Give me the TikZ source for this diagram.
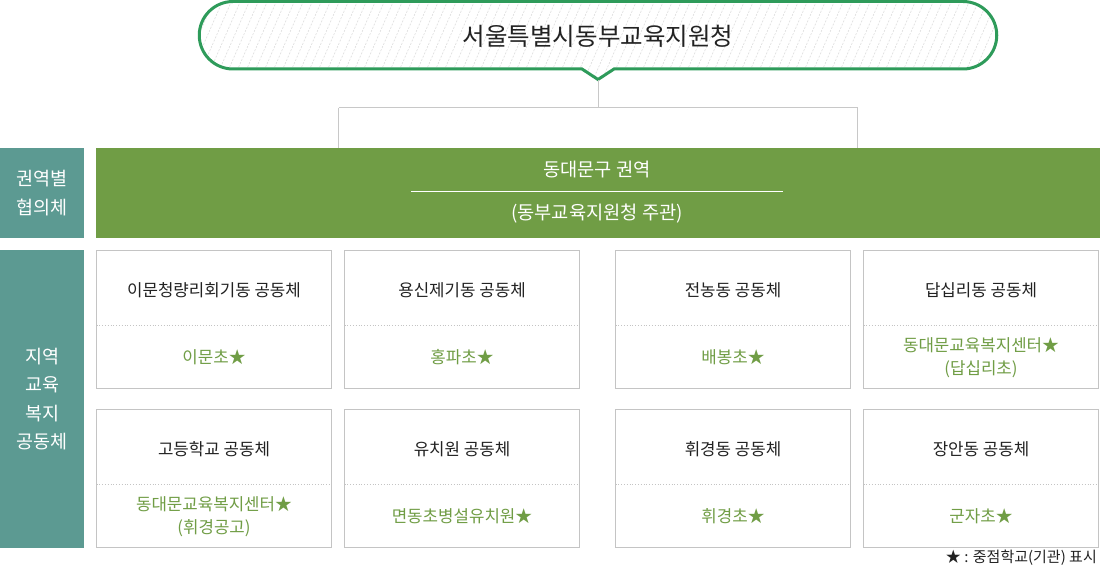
\documentclass[tikz,border=0pt]{standalone}
\usepackage{fontspec}
\setmainfont{Noto Sans CJK KR}
\definecolor{titlegreen}{HTML}{2E9B5A}
\definecolor{bargreen}{HTML}{709D45}
\definecolor{teal}{HTML}{5C9A92}
\definecolor{cardline}{HTML}{C4C4C4}
\definecolor{connline}{HTML}{C8C8C8}
\definecolor{txt}{HTML}{222222}
\definecolor{hatch}{HTML}{DDDDDD}
\tikzset{
  conn/.style={draw=connline, line width=1pt},
  cardbox/.style={draw=cardline, line width=1pt, fill=white, anchor=north west, minimum width=235pt, minimum height=138pt, inner sep=0pt, outer sep=0pt},
  cardtitle/.style={font=\fontsize{16.8}{20}\selectfont, text=txt, inner sep=0pt},
  cardsub/.style={font=\fontsize{16.8}{23}\selectfont, text=bargreen, align=center, inner sep=0pt},
  sepline/.style={draw=cardline, line width=0.8pt, dotted},
  sidebox/.style={fill=teal, anchor=north west, minimum width=84pt, inner sep=0pt, text=white, align=center, font=\fontsize{18.5}{28.5}\selectfont},
}
\newcommand\mkcard[5]{%
  \node[cardbox] (#1) at (#2,#3) {};
  \draw[sepline] ([yshift=-74.5pt]#1.north west) -- ([yshift=-74.5pt]#1.north east);
  \node[cardtitle] (#1t) at ([yshift=-39.5pt]#1.north) {#4};
  \node[cardsub] (#1s) at ([yshift=-107pt]#1.north) {#5};
}
\begin{document}
\begin{tikzpicture}[x=1pt,y=-1pt]
\useasboundingbox (0,0) rectangle (1100,569);
% title box
\def\titlepath{(233,1.5) -- (963,1.5) arc[start angle=90,end angle=-90,radius=33.75pt] -- (614,69) -- (598,79.5) -- (582,69) -- (233,69) arc[start angle=270,end angle=90,radius=33.75pt] -- cycle}
\fill[white] \titlepath;
\begin{scope}
\clip \titlepath;
\foreach \i in {0,9,...,860} {
  \draw[hatch, line width=0.6pt, dash pattern=on 2pt off 1.5pt] (170+\i,80) -- (205+\i,0);
}
\end{scope}
\draw[titlegreen, line width=3pt, line join=miter] \titlepath;
\node[font=\fontsize{24.5}{28}\selectfont, text=txt, inner sep=0pt] (title) at (598,36) {서울특별시동부교육지원청};
\coordinate (tip) at (598,80);
% green bar
\node[fill=bargreen, anchor=north west, minimum width=1004pt, minimum height=90pt, inner sep=0pt] (bar) at (96,148) {};
\node[font=\fontsize{18.7}{22}\selectfont, text=white, inner sep=0pt] (bart) at (597,170) {동대문구 권역};
\node[font=\fontsize{18.7}{22}\selectfont, text=white, inner sep=0pt] (bars) at (597,214) {(동부교육지원청 주관)};
\coordinate (bl) at (411,192);
\coordinate (br) at (783,192);
\draw[white, line width=1pt] (bl) -- (br);
% connectors
\coordinate (jn) at (598,108);
\coordinate (jl) at (338.5,108);
\coordinate (jr) at (857.5,108);
\draw[conn] (tip) -- (jn);
\draw[conn] (jl) -- (jr);
\draw[conn] (jl) -- (jl |- bar.north);
\draw[conn] (jr) -- (jr |- bar.north);
% side labels
\node[sidebox, minimum height=90pt] (side1) at (0,148) {권역별\\협의체};
\node[sidebox, minimum height=298pt] (side2) at (0,250) {지역\\교육\\복지\\공동체};
% cards
\mkcard{c1}{96.5}{250.5}{이문청량리회기동 공동체}{이문초★}
\mkcard{c2}{344.5}{250.5}{용신제기동 공동체}{홍파초★}
\mkcard{c3}{615.5}{250.5}{전농동 공동체}{배봉초★}
\mkcard{c4}{863.5}{250.5}{답십리동 공동체}{동대문교육복지센터★\\(답십리초)}
\mkcard{c5}{96.5}{409.5}{고등학교 공동체}{동대문교육복지센터★\\(휘경공고)}
\mkcard{c6}{344.5}{409.5}{유치원 공동체}{면동초병설유치원★}
\mkcard{c7}{615.5}{409.5}{휘경동 공동체}{휘경초★}
\mkcard{c8}{863.5}{409.5}{장안동 공동체}{군자초★}
% footnote
\node[font=\fontsize{15}{18}\selectfont, text=txt, anchor=east, inner sep=0pt] (note) at (1097,558) {★ : 중점학교(기관) 표시};
\end{tikzpicture}
\end{document}
